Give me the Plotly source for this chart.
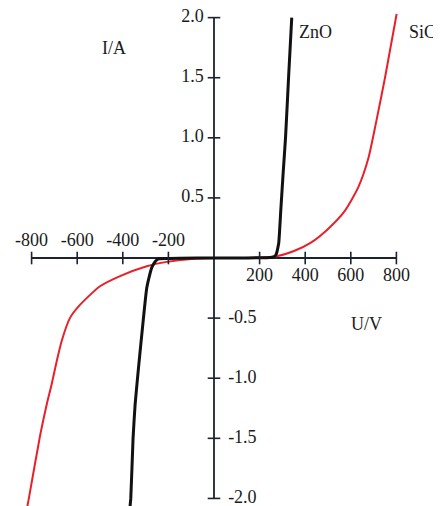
import plotly.graph_objects as go

# ---- data ----
zno_u = [-370, -365, -355, -346, -332, -310, -295, -282, -273, -262, -251, -240, -220, -150, 0,
         150, 230, 255, 265, 271, 276, 280, 284, 293, 303, 314, 327, 341]
zno_i = [-2.1, -2.0, -1.5, -1.22, -0.93, -0.51, -0.25, -0.14, -0.08, -0.04, -0.015, -0.006, -0.003, -0.001, 0,
         0.001, 0.003, 0.006, 0.012, 0.025, 0.05, 0.085, 0.125, 0.4, 0.7, 1.01, 1.5, 2.0]

sic_u = [-822, -814, -763, -734, -712, -690, -668, -632, -588, -500, -412, -295, -207, -100, 0,
         100, 200, 270, 351, 425, 499, 573, 633, 677, 710, 750, 801]
sic_i = [-2.1, -2.02, -1.48, -1.22, -1.05, -0.86, -0.69, -0.5, -0.39, -0.235, -0.15, -0.068, -0.032, -0.008, 0,
         0.001, 0.004, 0.012, 0.058, 0.128, 0.24, 0.39, 0.59, 0.83, 1.12, 1.5, 2.03]

x_ticks = [-800, -600, -400, -200, 200, 400, 600, 800]
x_labels = ["-800", "-600", "-400", "-200", "200", "400", "600", "800"]
y_ticks = [2.0, 1.5, 1.0, 0.5, -0.5, -1.0, -1.5, -2.0]
y_labels = ["2.0", "1.5", "1.0", "0.5", "-0.5", "-1.0", "-1.5", "-2.0"]

x_min, x_max = -800, 800
y_min, y_max = -2.0, 2.0

FONT = "Liberation Serif"
FS = 18
AX = "#1c2230"
TXT = "#1a1a1a"

fig = go.Figure()

# curves
fig.add_trace(go.Scatter(x=sic_u, y=sic_i, mode="lines",
                         line=dict(color="#e8202a", width=2, shape="spline", smoothing=0.6),
                         showlegend=False, hoverinfo="skip"))
fig.add_trace(go.Scatter(x=zno_u, y=zno_i, mode="lines",
                         line=dict(color="#111111", width=3, shape="spline", smoothing=0.5),
                         showlegend=False, hoverinfo="skip"))

# axis lines
fig.add_shape(type="line", xref="x", yref="y", x0=x_min, x1=x_max, y0=0, y1=0,
              line=dict(color=AX, width=1.8), layer="below")
fig.add_shape(type="line", xref="x", yref="y", x0=0, x1=0, y0=y_min, y1=y_max,
              line=dict(color=AX, width=1.8), layer="below")

# tick marks
fig.add_trace(go.Scatter(x=x_ticks, y=[0] * len(x_ticks), mode="markers",
                         marker=dict(symbol="line-ns", size=9, line=dict(color=AX, width=1.6)),
                         showlegend=False, hoverinfo="skip", cliponaxis=False))
fig.add_trace(go.Scatter(x=[0] * len(y_ticks), y=y_ticks, mode="markers",
                         marker=dict(symbol="line-ew", size=9, line=dict(color=AX, width=1.6)),
                         showlegend=False, hoverinfo="skip", cliponaxis=False))

# x tick labels: negatives above, positives below
neg_x = [(v, l) for v, l in zip(x_ticks, x_labels) if v < 0]
pos_x = [(v, l) for v, l in zip(x_ticks, x_labels) if v > 0]
fig.add_trace(go.Scatter(x=[v for v, _ in neg_x], y=[0.14] * len(neg_x), mode="text",
                         text=[l for _, l in neg_x], textposition="middle center",
                         textfont=dict(family=FONT, size=FS, color=TXT), cliponaxis=False,
                         showlegend=False, hoverinfo="skip"))
fig.add_trace(go.Scatter(x=[v for v, _ in pos_x], y=[-0.154] * len(pos_x), mode="text",
                         text=[l for _, l in pos_x], textposition="middle center",
                         textfont=dict(family=FONT, size=FS, color=TXT), cliponaxis=False,
                         showlegend=False, hoverinfo="skip"))

# y tick labels: positives left, negatives right
pos_y = [(v, l) for v, l in zip(y_ticks, y_labels) if v > 0]
neg_y = [(v, l) for v, l in zip(y_ticks, y_labels) if v < 0]
fig.add_trace(go.Scatter(x=[-45] * len(pos_y), y=[v for v, _ in pos_y], mode="text",
                         text=[l for _, l in pos_y], textposition="middle left",
                         textfont=dict(family=FONT, size=FS, color=TXT), cliponaxis=False,
                         showlegend=False, hoverinfo="skip"))
fig.add_trace(go.Scatter(x=[62] * len(neg_y), y=[v for v, _ in neg_y], mode="text",
                         text=[l for _, l in neg_y], textposition="middle right",
                         textfont=dict(family=FONT, size=FS, color=TXT), cliponaxis=False,
                         showlegend=False, hoverinfo="skip"))

# axis titles and curve labels
ann_font = dict(family=FONT, size=FS, color=TXT)
fig.add_annotation(x=-439, y=1.746, xref="x", yref="y", text="I/A", showarrow=False, font=ann_font)
fig.add_annotation(x=671, y=-0.546, xref="x", yref="y", text="U/V", showarrow=False, font=ann_font)
fig.add_annotation(x=366, y=1.879, xref="x", yref="y", text="ZnO", showarrow=False,
                   xanchor="left", font=ann_font)
fig.add_annotation(x=914, y=1.879, xref="x", yref="y", text="SiC", showarrow=False, font=ann_font)

# the page body adds an 8px margin, so the figure is 8px smaller and the ranges compensate
fig.update_layout(
    width=433, height=498,
    margin=dict(l=0, r=0, t=0, b=0),
    paper_bgcolor="white", plot_bgcolor="white",
    xaxis=dict(range=[-903.5, 995.6], visible=False, fixedrange=True),
    yaxis=dict(range=[-2.063, 2.08], visible=False, fixedrange=True),
    showlegend=False,
)

fig.write_html("out.html", config={"displayModeBar": False})
